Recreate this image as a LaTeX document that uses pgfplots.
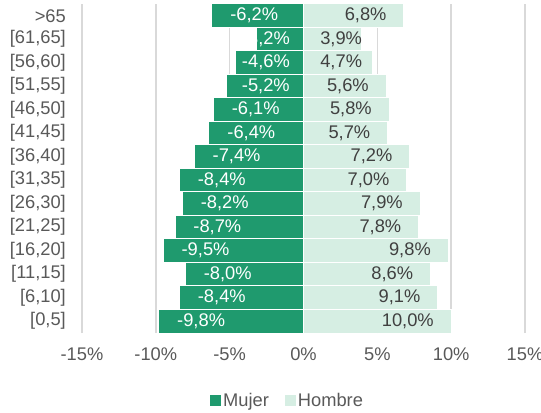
\documentclass[border=0pt]{standalone}
\usepackage{fontspec}
\setmainfont{Liberation Sans}
\usepackage{pgfplots}
\pgfplotsset{compat=1.18}
\definecolor{mujer}{HTML}{1F9A6E}
\definecolor{hombre}{HTML}{D6EEE3}
\definecolor{txt}{HTML}{595959}
\definecolor{lbl}{HTML}{404040}
\definecolor{grd}{HTML}{D9D9D9}
\newcommand{\f}{\fontsize{18.3bp}{22bp}\selectfont}
\begin{document}
\begin{tikzpicture}
\path[use as bounding box] (0,0) rectangle (541bp,413bp);
\begin{axis}[
  at={(82bp,80bp)}, anchor=south west, scale only axis,
  width=443bp, height=329bp,
  xbar, bar shift=0pt, bar width=23.5bp,
  xmin=-15, xmax=15, ymin=-0.5, ymax=13.5,
  xtick={-15,-10,-5,0,5,10,15},
  xticklabels={-15\%,-10\%,-5\%,0\%,5\%,10\%,15\%},
  ytick={0,1,2,3,4,5,6,7,8,9,10,11,12,13},
  yticklabels={{[0,5]},{[6,10]},{[11,15]},{[16,20]},{[21,25]},{[26,30]},{[31,35]},{[36,40]},{[41,45]},{[46,50]},{[51,55]},{[56,60]},{[61,65]},{>65}},
  xmajorgrids, ymajorgrids=false, grid style={grd, line width=1.5bp},
  axis line style={draw=none}, major tick length=0pt,
  tick label style={font=\f, text=txt, inner sep=0pt},
  xticklabel style={yshift=-15bp},
  yticklabel style={xshift=-16bp},
  /pgf/number format/fixed,
  /pgf/number format/fixed zerofill,
  /pgf/number format/precision=1,
  /pgf/number format/use comma,
  /pgf/number format/assume math mode=true,
  legend style={at={(0.464,-0.205)}, anchor=center, draw=none, fill=none,
    legend columns=2, font=\f, text=txt, inner sep=0pt,
    /tikz/every even column/.append style={column sep=14bp}},
  legend image code/.code={\draw[#1,draw=none] (0bp,-5.5bp) rectangle (11bp,5.5bp);},
]
\addplot[fill=mujer, draw=white, line width=1bp, point meta=x,
  nodes near coords={\pgfmathprintnumber{\pgfplotspointmeta}\%},
  visualization depends on={x \as \myx},
  every node near coord/.append style={text=white, font=\f, inner sep=0pt,
    anchor=west, xshift={min(18,14.77*abs(\myx)-62)}}]
coordinates {(-9.8,0) (-8.4,1) (-8.0,2) (-9.5,3) (-8.7,4) (-8.2,5) (-8.4,6) (-7.4,7) (-6.4,8) (-6.1,9) (-5.2,10) (-4.6,11) (-3.2,12) (-6.2,13)};
\addlegendentry{Mujer}
\addplot[fill=hombre, draw=white, line width=1bp, point meta=x,
  nodes near coords={\pgfmathprintnumber{\pgfplotspointmeta}\%},
  visualization depends on={x \as \myx},
  every node near coord/.append style={text=lbl, font=\f, inner sep=0pt,
    anchor=east, xshift={max(-17,59-14.77*abs(\myx))}}]
coordinates {(10.0,0) (9.1,1) (8.6,2) (9.8,3) (7.8,4) (7.9,5) (7.0,6) (7.2,7) (5.7,8) (5.8,9) (5.6,10) (4.7,11) (3.9,12) (6.8,13)};
\addlegendentry{Hombre}
\end{axis}
\end{tikzpicture}
\end{document}
